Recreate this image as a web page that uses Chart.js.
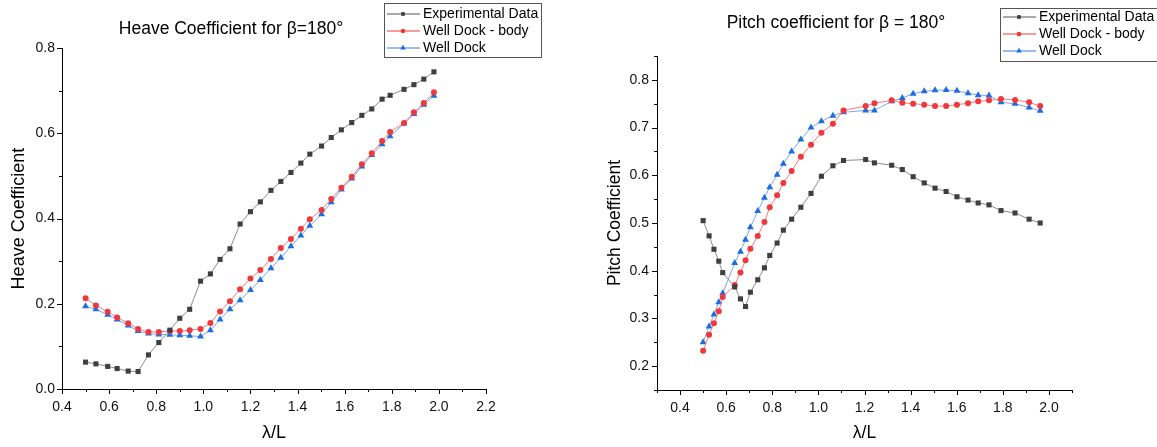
<!DOCTYPE html>
<html>
<head>
<meta charset="utf-8">
<title>Heave and pitch coefficients, beta = 180</title>
<script src="https://cdn.jsdelivr.net/npm/chart.js@4.4.1/dist/chart.umd.min.js"></script>
<style>
  html, body { margin: 0; padding: 0; background: #fff; }
  body { width: 1157px; height: 447px; position: relative; overflow: hidden; }
  .panel { position: absolute; top: 0; height: 447px; }
  #heavePanel { left: 0; width: 578px; }
  #pitchPanel { left: 578px; width: 579px; }
</style>
</head>
<body>
<div class="panel" id="heavePanel"><canvas id="heaveChart"></canvas></div>
<div class="panel" id="pitchPanel"><canvas id="pitchChart"></canvas></div>
<script>
'use strict';

// ── Heave, β = 180° ───────────────────────────────────────────
const heaveLambda = [0.500, 0.544, 0.594, 0.634, 0.681, 0.723, 0.767, 0.811, 0.858, 0.900,
                     0.942, 0.988, 1.030, 1.071, 1.113, 1.156, 1.200, 1.242, 1.287, 1.329,
                     1.372, 1.414, 1.452, 1.502, 1.543, 1.586, 1.630, 1.673, 1.715, 1.759,
                     1.793, 1.852, 1.894, 1.936, 1.979];
const heaveExperimental = [0.063, 0.059, 0.053, 0.048, 0.042, 0.041, 0.080, 0.109, 0.138, 0.166,
                           0.187, 0.253, 0.270, 0.304, 0.329, 0.387, 0.416, 0.439, 0.466, 0.487,
                           0.508, 0.530, 0.551, 0.570, 0.590, 0.608, 0.625, 0.642, 0.657, 0.680,
                           0.689, 0.703, 0.714, 0.727, 0.744];
const heaveWellDockBody = [0.213, 0.196, 0.181, 0.168, 0.154, 0.141, 0.134, 0.134, 0.136, 0.136,
                           0.138, 0.141, 0.155, 0.182, 0.206, 0.234, 0.259, 0.279, 0.305, 0.331,
                           0.352, 0.376, 0.398, 0.420, 0.446, 0.472, 0.498, 0.527, 0.553, 0.582,
                           0.603, 0.624, 0.649, 0.671, 0.696];
const heaveWellDock = [0.194, 0.187, 0.174, 0.163, 0.149, 0.136, 0.130, 0.128, 0.127, 0.126,
                       0.125, 0.123, 0.138, 0.163, 0.187, 0.208, 0.232, 0.256, 0.283, 0.308,
                       0.335, 0.360, 0.383, 0.410, 0.438, 0.468, 0.494, 0.522, 0.549, 0.574,
                       0.593, 0.623, 0.645, 0.667, 0.688];
const heaveXTicks = [0.4, 0.6, 0.8, 1.0, 1.2, 1.4, 1.6, 1.8, 2.0, 2.2];
const heaveYTicks = [0.0, 0.2, 0.4, 0.6, 0.8];

// ── Pitch, β = 180° ───────────────────────────────────────────
const pitchLambda = [0.500, 0.526, 0.547, 0.568, 0.585, 0.637, 0.662, 0.684, 0.705, 0.737,
                     0.766, 0.789, 0.821, 0.848, 0.884, 0.924, 0.968, 1.013, 1.063, 1.109,
                     1.205, 1.243, 1.318, 1.364, 1.411, 1.459, 1.506, 1.554, 1.601, 1.649,
                     1.693, 1.740, 1.792, 1.853, 1.914, 1.962];
const pitchExperimental = [0.505, 0.473, 0.445, 0.420, 0.396, 0.366, 0.341, 0.325, 0.355, 0.381,
                           0.406, 0.432, 0.458, 0.485, 0.508, 0.533, 0.562, 0.598, 0.620, 0.631,
                           0.633, 0.626, 0.621, 0.612, 0.597, 0.584, 0.573, 0.566, 0.555, 0.548,
                           0.542, 0.538, 0.526, 0.521, 0.508, 0.500];
const pitchWellDockBody = [0.232, 0.266, 0.290, 0.315, 0.345, 0.370, 0.396, 0.422, 0.446, 0.473,
                           0.502, 0.533, 0.558, 0.584, 0.609, 0.639, 0.664, 0.689, 0.708, 0.736,
                           0.745, 0.751, 0.757, 0.752, 0.750, 0.748, 0.745, 0.745, 0.748, 0.751,
                           0.755, 0.757, 0.760, 0.758, 0.753, 0.745];
const pitchWellDock = [0.250, 0.283, 0.308, 0.334, 0.353, 0.416, 0.440, 0.465, 0.491, 0.525,
                       0.553, 0.575, 0.601, 0.624, 0.650, 0.675, 0.700, 0.713, 0.725, 0.732,
                       0.736, 0.736, 0.755, 0.762, 0.771, 0.776, 0.778, 0.779, 0.777, 0.772,
                       0.768, 0.767, 0.753, 0.750, 0.742, 0.735];
const pitchXTicks = [0.4, 0.6, 0.8, 1.0, 1.2, 1.4, 1.6, 1.8, 2.0];
const pitchYTicks = [0.2, 0.3, 0.4, 0.5, 0.6, 0.7, 0.8];

const seriesNames = ['Experimental Data', 'Well Dock - body', 'Well Dock'];

// ── Styles ────────────────────────────────────────────────────
const FONT = '"Liberation Sans", Arial, Helvetica, sans-serif';

const SERIES_STYLE = [
  { line: '#8c8c8c', point: '#3f3f3f', pointStyle: 'rect',     radius: 3.6, legendRadius: 2.6 },
  { line: '#f47a7e', point: '#f0373c', pointStyle: 'circle',   radius: 3.0, legendRadius: 2.3 },
  { line: '#7ca6ee', point: '#1c6ce2', pointStyle: 'triangle', radius: 4.0, legendRadius: 3.2 },
];

Chart.defaults.font.family = FONT;
Chart.defaults.color = '#111';

// midpoints between major ticks, plus the axis ends
function minorTicks(majors, min, max) {
  const out = [];
  const step = majors[1] - majors[0];
  for (let v = majors[0] - step / 2; v >= min - 1e-9; v -= step) out.push(v);
  majors.forEach((m, i) => { if (i < majors.length - 1) out.push(m + step / 2); });
  for (let v = majors[majors.length - 1] + step / 2; v <= max + 1e-9; v += step) out.push(v);
  return out;
}

function makeDatasets(lambda, seriesValues) {
  return seriesValues.map((values, i) => {
    const s = SERIES_STYLE[i];
    return {
      label: seriesNames[i],
      data: lambda.map((x, k) => ({ x, y: values[k] })),
      borderColor: s.line,
      borderWidth: 1,
      backgroundColor: s.point,
      pointStyle: s.pointStyle,
      pointRadius: s.radius,
      pointBorderWidth: 0,
      pointBackgroundColor: s.point,
      tension: 0,
      fill: false,
    };
  });
}

// ── Small marker helper for the legend ───────────────────────
function drawMarker(ctx, style, r, x, y) {
  ctx.fillStyle = style.point;
  ctx.beginPath();
  if (style.pointStyle === 'rect') {
    const h = r * Math.SQRT1_2;
    ctx.rect(x - h, y - h, 2 * h, 2 * h);
  } else if (style.pointStyle === 'circle') {
    ctx.arc(x, y, r, 0, Math.PI * 2);
  } else {
    ctx.moveTo(x, y - r);
    ctx.lineTo(x + r * 0.866, y + r * 0.5);
    ctx.lineTo(x - r * 0.866, y + r * 0.5);
    ctx.closePath();
  }
  ctx.fill();
}

// ── Plugin: outward major/minor tick marks ───────────────────
const tickMarks = {
  id: 'tickMarks',
  afterDraw(chart, args, opts) {
    const { ctx, chartArea: a, scales: { x, y } } = chart;
    ctx.save();
    ctx.strokeStyle = '#000';
    ctx.lineWidth = 1;
    ctx.beginPath();
    const mark = (scale, values, len) => values.forEach(v => {
      const p = Math.round(scale.getPixelForValue(v)) + 0.5;
      if (scale.isHorizontal()) {
        ctx.moveTo(p, a.bottom);
        ctx.lineTo(p, a.bottom + len);
      } else {
        ctx.moveTo(a.left, p);
        ctx.lineTo(a.left - len, p);
      }
    });
    mark(x, opts.xMajor, 5);
    mark(x, opts.xMinor, 3);
    mark(y, opts.yMajor, 5);
    mark(y, opts.yMinor, 3);
    ctx.stroke();
    ctx.restore();
  },
};

// ── Plugin: chart title, axis titles and boxed legend ────────
const panelText = {
  id: 'panelText',
  afterDraw(chart, args, opts) {
    const { ctx, chartArea: a } = chart;
    ctx.save();
    ctx.fillStyle = '#000';
    ctx.textAlign = 'center';
    ctx.textBaseline = 'middle';

    ctx.font = `${opts.titleSize}px ${FONT}`;
    ctx.fillText(opts.title, opts.titleX, opts.titleY);

    ctx.font = `${opts.axisTitleSize}px ${FONT}`;
    ctx.fillText(opts.xTitle, (a.left + a.right) / 2, opts.xTitleY);

    ctx.save();
    ctx.translate(opts.yTitleX, (a.top + a.bottom) / 2);
    ctx.rotate(-Math.PI / 2);
    ctx.fillText(opts.yTitle, 0, 0);
    ctx.restore();

    // legend
    const L = opts.legend;
    ctx.strokeStyle = '#555';
    ctx.lineWidth = 1;
    ctx.strokeRect(L.x + 0.5, L.y + 0.5, L.w, L.h);
    ctx.font = `14px ${FONT}`;
    ctx.textAlign = 'left';
    seriesNames.forEach((name, i) => {
      const s = SERIES_STYLE[i];
      const ry = L.y + L.firstRow + i * L.rowGap;
      ctx.strokeStyle = s.line;
      ctx.lineWidth = 1.3;
      ctx.beginPath();
      ctx.moveTo(L.x + 3, ry);
      ctx.lineTo(L.x + 36, ry);
      ctx.stroke();
      drawMarker(ctx, s, s.legendRadius, L.x + 19, ry);
      ctx.fillStyle = '#000';
      ctx.fillText(name, L.x + 39, ry + 0.5);
    });
    ctx.restore();
  },
};

function buildChart(canvasId, cfg) {
  const scaleCommon = {
    type: 'linear',
    grid: { display: false, drawTicks: false },
    border: { display: true, color: '#000', width: 1 },
  };
  return new Chart(document.getElementById(canvasId), {
    type: 'line',
    data: { datasets: makeDatasets(cfg.lambda, cfg.series) },
    plugins: [tickMarks, panelText],
    options: {
      responsive: true,
      maintainAspectRatio: false,
      animation: false,
      layout: { padding: cfg.padding },
      plugins: {
        legend: { display: false },
        title: { display: false },
        tooltip: { enabled: false },
        tickMarks: {
          xMajor: cfg.xTicks,
          xMinor: minorTicks(cfg.xTicks, cfg.xRange[0], cfg.xRange[1]),
          yMajor: cfg.yTicks,
          yMinor: minorTicks(cfg.yTicks, cfg.yRange[0], cfg.yRange[1]),
        },
        panelText: cfg.text,
      },
      scales: {
        x: {
          ...scaleCommon,
          min: cfg.xRange[0],
          max: cfg.xRange[1],
          afterBuildTicks: s => { s.ticks = cfg.xTicks.map(value => ({ value })); },
          afterFit: s => { s.height = cfg.xAxisHeight; },
          ticks: {
            padding: 10,
            maxRotation: 0,
            autoSkip: false,
            font: { size: 14 },
            callback: v => Number(v).toFixed(1),
          },
        },
        y: {
          ...scaleCommon,
          min: cfg.yRange[0],
          max: cfg.yRange[1],
          afterBuildTicks: s => { s.ticks = cfg.yTicks.map(value => ({ value })); },
          afterFit: s => { s.width = cfg.yAxisWidth; },
          ticks: {
            padding: cfg.yLabelPad,
            autoSkip: false,
            font: { size: 14 },
            callback: v => Number(v).toFixed(1),
          },
        },
      },
    },
  });
}

buildChart('heaveChart', {
  lambda: heaveLambda,
  series: [heaveExperimental, heaveWellDockBody, heaveWellDock],
  xTicks: heaveXTicks,
  yTicks: heaveYTicks,
  xRange: [0.4, 2.2],
  yRange: [0, 0.8],
  padding: { left: 0, top: 48, right: 92, bottom: 0 },
  yAxisWidth: 62,
  xAxisHeight: 58,
  yLabelPad: 7,
  text: {
    title: 'Heave Coefficient for β=180°',
    titleSize: 17.5, titleX: 231, titleY: 29,
    xTitle: 'λ/L', xTitleY: 433,
    yTitle: 'Heave Coefficient', yTitleX: 19,
    axisTitleSize: 18,
    legend: { x: 384, y: 3, w: 157, h: 54, firstRow: 11, rowGap: 17 },
  },
});

buildChart('pitchChart', {
  lambda: pitchLambda,
  series: [pitchExperimental, pitchWellDockBody, pitchWellDock],
  xTicks: pitchXTicks,
  yTicks: pitchYTicks,
  xRange: [0.3, 2.1],
  yRange: [0.15, 0.85],
  padding: { left: 0, top: 56, right: 85, bottom: 0 },
  yAxisWidth: 79,
  xAxisHeight: 57,
  yLabelPad: 8,
  text: {
    title: 'Pitch coefficient for β = 180°',
    titleSize: 17.5, titleX: 258, titleY: 23,
    xTitle: 'λ/L', xTitleY: 433,
    yTitle: 'Pitch Coefficient', yTitleX: 37,
    axisTitleSize: 17.5,
    legend: { x: 422, y: 8, w: 157, h: 53, firstRow: 9, rowGap: 17 },
  },
});
</script>
</body>
</html>
